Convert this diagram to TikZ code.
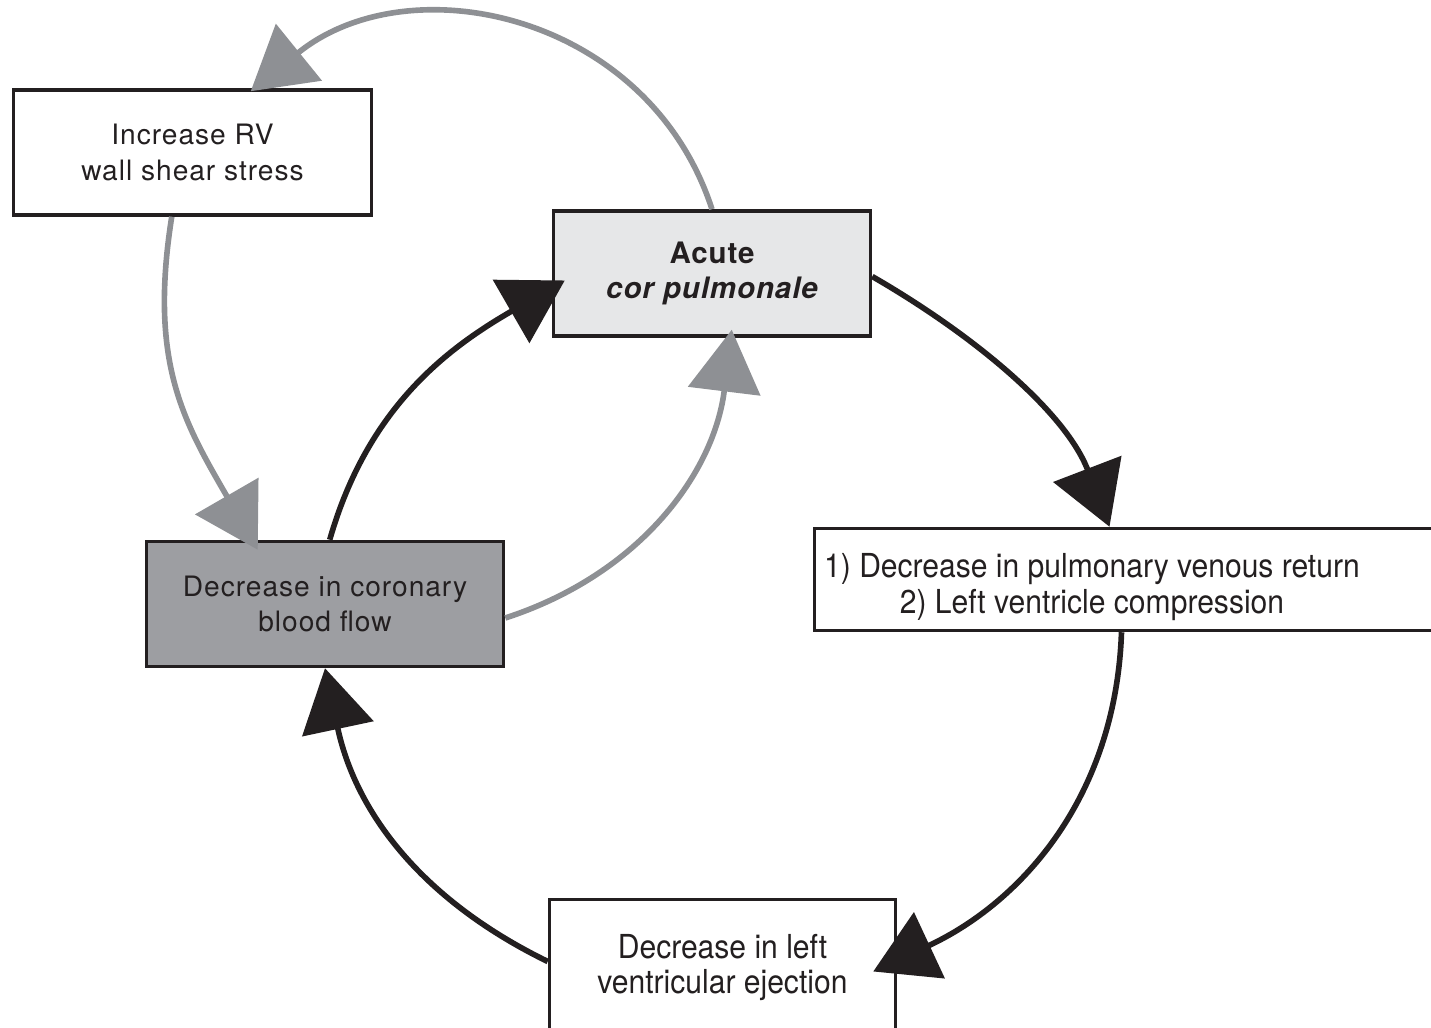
\documentclass[tikz,border=0pt]{standalone}
\usepackage{fontspec}
\setmainfont{TeX Gyre Heros}
\newfontfamily\widefont[LetterSpace=3.5]{TeX Gyre Heros}
\newfontfamily\condfont[FakeStretch=0.91]{TeX Gyre Heros}
\usetikzlibrary{arrows.meta}
\definecolor{ink}{HTML}{231F20}
\definecolor{arcgrey}{HTML}{8E9094}
\definecolor{lightbox}{HTML}{E6E7E8}
\definecolor{darkbox}{HTML}{9D9EA2}

\begin{document}
\begin{tikzpicture}[
    box/.style={draw=ink,line width=1pt,rectangle,inner sep=0pt,align=center,text=ink,
        minimum height=1.25cm,font=\widefont\fontsize{8}{10.2}\selectfont},
    condbox/.style={box,font=\condfont\fontsize{9.4}{10.2}\selectfont},
    blackedge/.style={draw=ink,line width=1.6pt,-{Triangle[length=6.2mm,width=7.2mm]}},
    greyedge/.style={draw=arcgrey,line width=1.6pt,-{Triangle[length=6.2mm,width=7.2mm]}}
    ]
    \useasboundingbox (0,0) rectangle (14.31,10.28);
    \node[box,minimum width=3.58cm] (rv) at (1.925,8.755) {Increase RV\\wall shear stress};
    \node[box,minimum width=3.17cm,fill=lightbox,
        font=\addfontfeature{LetterSpace=3}\fontsize{8.4}{10.2}\selectfont\bfseries]
        (acute) at (7.12,7.545) {Acute\\\itshape cor pulmonale};
    \node[box,minimum width=3.57cm,fill=darkbox] (cor) at (3.25,4.24) {Decrease in coronary\\blood flow};
    \node[box,minimum width=6.5cm,minimum height=1.02cm,anchor=west] (pulm) at (8.125,4.485) {};
    \node[condbox,draw=none] (pulmtext) at (10.92,4.41)
        {1) Decrease in pulmonary venous return\\2) Left ventricle compression};
    \node[condbox,minimum width=3.46cm,minimum height=1.36cm] (eject) at (7.225,0.605)
        {Decrease in left\\ventricular ejection};

    \draw[greyedge] (acute.north) to[out=108,in=39,looseness=1.1]
        ([xshift=2.39cm,yshift=-0.03cm]rv.north west);
    \draw[greyedge] ([xshift=1.6cm]rv.south west) to[out=-99,in=120,looseness=1.1]
        ([xshift=1.13cm,yshift=-0.1cm]cor.north west);
    \draw[greyedge] ([yshift=-0.14cm]cor.east) to[out=18,in=-97]
        ([xshift=1.8cm,yshift=0.08cm]acute.south west);
    \draw[blackedge] ([xshift=1.85cm]cor.north west) to[out=74,in=210]
        ([xshift=0.13cm,yshift=-0.07cm]acute.west);
    \draw[blackedge] ([yshift=-0.03cm]acute.east) to[out=-30,in=111,looseness=0.9]
        ([xshift=2.97cm]pulm.north west);
    \draw[blackedge] ([xshift=3.09cm]pulm.south west) to[out=-92,in=25]
        ([xshift=-0.24cm,yshift=-0.04cm]eject.east);
    \draw[blackedge] ([yshift=0.06cm]eject.west) to[out=154,in=-78] (cor.south);
\end{tikzpicture}
\end{document}
